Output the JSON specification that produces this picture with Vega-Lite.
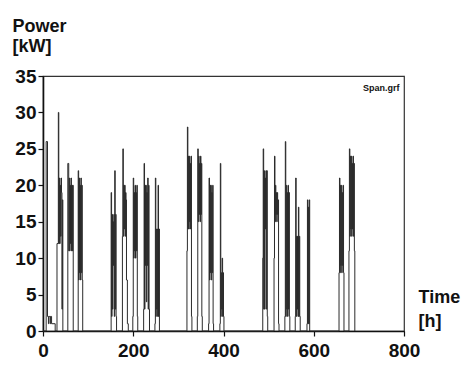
{
  "$schema": "https://vega.github.io/schema/vega-lite/v6.json",
  "width": 361,
  "height": 255,
  "autosize": {"type": "none"},
  "padding": {"left": 43, "top": 76, "right": 68, "bottom": 37},
  "background": "white",
  "config": {
    "view": {"stroke": "#333333", "strokeWidth": 1.2},
    "font": "Liberation Sans"
  },
  "data": {
    "values": [
      {"t": 0, "p": 0}, {"t": 6, "p": 0}, {"t": 7, "p": 26}, {"t": 10, "p": 2}, {"t": 11, "p": 2}, {"t": 12, "p": 1}, {"t": 13, "p": 2}, {"t": 15, "p": 2}, {"t": 16, "p": 1}, {"t": 17, "p": 2}, {"t": 19, "p": 1}, {"t": 27, "p": 0},
      {"t": 30, "p": 0}, {"t": 31, "p": 12}, {"t": 34, "p": 30}, {"t": 35, "p": 12}, {"t": 36, "p": 21}, {"t": 37, "p": 12}, {"t": 38, "p": 20}, {"t": 39, "p": 13}, {"t": 40, "p": 21}, {"t": 41, "p": 19}, {"t": 42, "p": 3}, {"t": 43, "p": 18}, {"t": 44, "p": 0},
      {"t": 54, "p": 0}, {"t": 55, "p": 23}, {"t": 57, "p": 11}, {"t": 58, "p": 21}, {"t": 59, "p": 11}, {"t": 60, "p": 20}, {"t": 61, "p": 12}, {"t": 62, "p": 21}, {"t": 63, "p": 11}, {"t": 64, "p": 20}, {"t": 65, "p": 11}, {"t": 66, "p": 20}, {"t": 67, "p": 0},
      {"t": 77, "p": 0}, {"t": 78, "p": 22}, {"t": 79, "p": 7}, {"t": 80, "p": 21}, {"t": 81, "p": 8}, {"t": 82, "p": 20}, {"t": 83, "p": 7}, {"t": 84, "p": 21}, {"t": 85, "p": 8}, {"t": 86, "p": 20}, {"t": 87, "p": 7}, {"t": 88, "p": 0},
      {"t": 150, "p": 0}, {"t": 151, "p": 19}, {"t": 152, "p": 2}, {"t": 153, "p": 16}, {"t": 154, "p": 3}, {"t": 155, "p": 15}, {"t": 156, "p": 9}, {"t": 157, "p": 16}, {"t": 158, "p": 2}, {"t": 159, "p": 22}, {"t": 160, "p": 3}, {"t": 161, "p": 16}, {"t": 162, "p": 2}, {"t": 163, "p": 0},
      {"t": 175, "p": 0}, {"t": 176, "p": 13}, {"t": 177, "p": 25}, {"t": 178, "p": 13}, {"t": 179, "p": 20}, {"t": 180, "p": 14}, {"t": 181, "p": 20}, {"t": 182, "p": 13}, {"t": 183, "p": 19}, {"t": 184, "p": 18}, {"t": 185, "p": 7}, {"t": 187, "p": 1}, {"t": 189, "p": 0},
      {"t": 198, "p": 0}, {"t": 199, "p": 2}, {"t": 200, "p": 21}, {"t": 201, "p": 10}, {"t": 202, "p": 19}, {"t": 203, "p": 11}, {"t": 204, "p": 20}, {"t": 205, "p": 10}, {"t": 206, "p": 19}, {"t": 207, "p": 11}, {"t": 208, "p": 20}, {"t": 209, "p": 2}, {"t": 210, "p": 0},
      {"t": 222, "p": 0}, {"t": 223, "p": 3}, {"t": 224, "p": 23}, {"t": 225, "p": 3}, {"t": 226, "p": 20}, {"t": 227, "p": 9}, {"t": 228, "p": 20}, {"t": 229, "p": 4}, {"t": 230, "p": 19}, {"t": 231, "p": 9}, {"t": 232, "p": 21}, {"t": 233, "p": 3}, {"t": 234, "p": 20}, {"t": 235, "p": 3}, {"t": 236, "p": 0},
      {"t": 247, "p": 0}, {"t": 248, "p": 1}, {"t": 249, "p": 21}, {"t": 250, "p": 2}, {"t": 251, "p": 14}, {"t": 252, "p": 3}, {"t": 253, "p": 14}, {"t": 254, "p": 2}, {"t": 255, "p": 20}, {"t": 256, "p": 2}, {"t": 257, "p": 14}, {"t": 258, "p": 0},
      {"t": 318, "p": 0}, {"t": 319, "p": 11}, {"t": 320, "p": 28}, {"t": 321, "p": 14}, {"t": 322, "p": 24}, {"t": 323, "p": 14}, {"t": 324, "p": 24}, {"t": 325, "p": 15}, {"t": 326, "p": 23}, {"t": 327, "p": 14}, {"t": 328, "p": 24}, {"t": 329, "p": 2}, {"t": 330, "p": 0},
      {"t": 341, "p": 0}, {"t": 342, "p": 2}, {"t": 343, "p": 25}, {"t": 344, "p": 15}, {"t": 345, "p": 24}, {"t": 346, "p": 16}, {"t": 347, "p": 23}, {"t": 348, "p": 15}, {"t": 349, "p": 24}, {"t": 350, "p": 16}, {"t": 351, "p": 23}, {"t": 352, "p": 2}, {"t": 353, "p": 0},
      {"t": 366, "p": 0}, {"t": 367, "p": 1}, {"t": 368, "p": 21}, {"t": 369, "p": 7}, {"t": 370, "p": 20}, {"t": 371, "p": 8}, {"t": 372, "p": 20}, {"t": 373, "p": 7}, {"t": 374, "p": 19}, {"t": 375, "p": 8}, {"t": 376, "p": 20}, {"t": 377, "p": 1}, {"t": 378, "p": 0},
      {"t": 391, "p": 0}, {"t": 392, "p": 1}, {"t": 393, "p": 23}, {"t": 394, "p": 2}, {"t": 395, "p": 8}, {"t": 396, "p": 3}, {"t": 397, "p": 10}, {"t": 398, "p": 2}, {"t": 399, "p": 8}, {"t": 400, "p": 2}, {"t": 401, "p": 0},
      {"t": 486, "p": 0}, {"t": 487, "p": 10}, {"t": 488, "p": 25}, {"t": 489, "p": 3}, {"t": 490, "p": 22}, {"t": 491, "p": 3}, {"t": 492, "p": 21}, {"t": 493, "p": 14}, {"t": 494, "p": 22}, {"t": 495, "p": 3}, {"t": 496, "p": 22}, {"t": 497, "p": 2}, {"t": 498, "p": 0},
      {"t": 511, "p": 0}, {"t": 512, "p": 10}, {"t": 513, "p": 24}, {"t": 514, "p": 15}, {"t": 515, "p": 20}, {"t": 516, "p": 16}, {"t": 517, "p": 19}, {"t": 518, "p": 15}, {"t": 519, "p": 19}, {"t": 520, "p": 16}, {"t": 521, "p": 18}, {"t": 522, "p": 1}, {"t": 523, "p": 0},
      {"t": 535, "p": 0}, {"t": 536, "p": 2}, {"t": 537, "p": 26}, {"t": 538, "p": 2}, {"t": 539, "p": 20}, {"t": 540, "p": 3}, {"t": 541, "p": 19}, {"t": 542, "p": 2}, {"t": 543, "p": 20}, {"t": 544, "p": 3}, {"t": 545, "p": 19}, {"t": 546, "p": 2}, {"t": 547, "p": 0},
      {"t": 558, "p": 0}, {"t": 559, "p": 2}, {"t": 560, "p": 21}, {"t": 561, "p": 2}, {"t": 562, "p": 13}, {"t": 563, "p": 3}, {"t": 564, "p": 13}, {"t": 565, "p": 2}, {"t": 566, "p": 17}, {"t": 567, "p": 2}, {"t": 568, "p": 13}, {"t": 569, "p": 2}, {"t": 570, "p": 0},
      {"t": 584, "p": 0}, {"t": 585, "p": 1}, {"t": 586, "p": 18}, {"t": 587, "p": 1}, {"t": 588, "p": 17}, {"t": 589, "p": 1}, {"t": 590, "p": 18}, {"t": 591, "p": 0},
      {"t": 655, "p": 0}, {"t": 656, "p": 8}, {"t": 657, "p": 21}, {"t": 658, "p": 8}, {"t": 659, "p": 20}, {"t": 660, "p": 9}, {"t": 661, "p": 20}, {"t": 662, "p": 8}, {"t": 663, "p": 19}, {"t": 664, "p": 9}, {"t": 665, "p": 20}, {"t": 666, "p": 8}, {"t": 667, "p": 0},
      {"t": 677, "p": 0}, {"t": 678, "p": 11}, {"t": 679, "p": 25}, {"t": 680, "p": 13}, {"t": 681, "p": 24}, {"t": 682, "p": 14}, {"t": 683, "p": 24}, {"t": 684, "p": 13}, {"t": 685, "p": 23}, {"t": 686, "p": 14}, {"t": 687, "p": 24}, {"t": 688, "p": 13}, {"t": 689, "p": 23}, {"t": 690, "p": 11}, {"t": 691, "p": 0}
    ]
  },
  "layer": [
    {
      "mark": {"type": "line", "interpolate": "step-after", "color": "#2b2b2b", "strokeWidth": 1},
      "encoding": {
        "x": {
          "field": "t", "type": "quantitative",
          "scale": {"domain": [0, 800], "nice": false},
          "axis": {
            "values": [0, 200, 400, 600, 800],
            "grid": false, "labelOverlap": false,
            "labelFontSize": 19, "labelFontWeight": "bold", "labelColor": "#111111",
            "labelPadding": 5, "labelFlush": false,
            "tickSize": 5, "tickColor": "#111111", "tickWidth": 1.2,
            "domainColor": "#111111", "domainWidth": 1.6,
            "title": ["Time", "[h]"],
            "titleFontSize": 18, "titleFontWeight": "bold", "titleColor": "#111111",
            "titleAlign": "left", "titleBaseline": "alphabetic", "titleAngle": 0,
            "titleX": 375, "titleY": -29, "titleLineHeight": 24
          }
        },
        "y": {
          "field": "p", "type": "quantitative",
          "scale": {"domain": [0, 35], "nice": false},
          "axis": {
            "values": [0, 5, 10, 15, 20, 25, 30, 35],
            "grid": false, "labelOverlap": false,
            "labelFontSize": 19, "labelFontWeight": "bold", "labelColor": "#111111",
            "labelPadding": 2, "labelFlush": false,
            "tickSize": 5, "tickColor": "#111111", "tickWidth": 1.2,
            "domainColor": "#111111", "domainWidth": 1.6,
            "title": ["Power", "[kW]"],
            "titleFontSize": 18, "titleFontWeight": "bold", "titleColor": "#111111",
            "titleAlign": "left", "titleBaseline": "alphabetic", "titleAngle": 0,
            "titleX": -31, "titleY": -45, "titleLineHeight": 20
          }
        }
      }
    },
    {
      "data": {"values": [{"label": "Span.grf"}]},
      "mark": {"type": "text", "align": "right", "baseline": "middle", "fontSize": 9, "fontWeight": "bold", "color": "#111111"},
      "encoding": {
        "x": {
          "datum": 790, "type": "quantitative",
          "axis": {
            "values": [0, 200, 400, 600, 800],
            "grid": false, "labelOverlap": false,
            "labelFontSize": 19, "labelFontWeight": "bold", "labelColor": "#111111",
            "labelPadding": 5, "labelFlush": false,
            "tickSize": 5, "tickColor": "#111111", "tickWidth": 1.2,
            "domainColor": "#111111", "domainWidth": 1.6,
            "title": ["Time", "[h]"],
            "titleFontSize": 18, "titleFontWeight": "bold", "titleColor": "#111111",
            "titleAlign": "left", "titleBaseline": "alphabetic", "titleAngle": 0,
            "titleX": 375, "titleY": -29, "titleLineHeight": 24
          }
        },
        "y": {
          "datum": 33.3, "type": "quantitative",
          "axis": {
            "values": [0, 5, 10, 15, 20, 25, 30, 35],
            "grid": false, "labelOverlap": false,
            "labelFontSize": 19, "labelFontWeight": "bold", "labelColor": "#111111",
            "labelPadding": 2, "labelFlush": false,
            "tickSize": 5, "tickColor": "#111111", "tickWidth": 1.2,
            "domainColor": "#111111", "domainWidth": 1.6,
            "title": ["Power", "[kW]"],
            "titleFontSize": 18, "titleFontWeight": "bold", "titleColor": "#111111",
            "titleAlign": "left", "titleBaseline": "alphabetic", "titleAngle": 0,
            "titleX": -31, "titleY": -45, "titleLineHeight": 20
          }
        },
        "text": {"field": "label"}
      }
    }
  ]
}
